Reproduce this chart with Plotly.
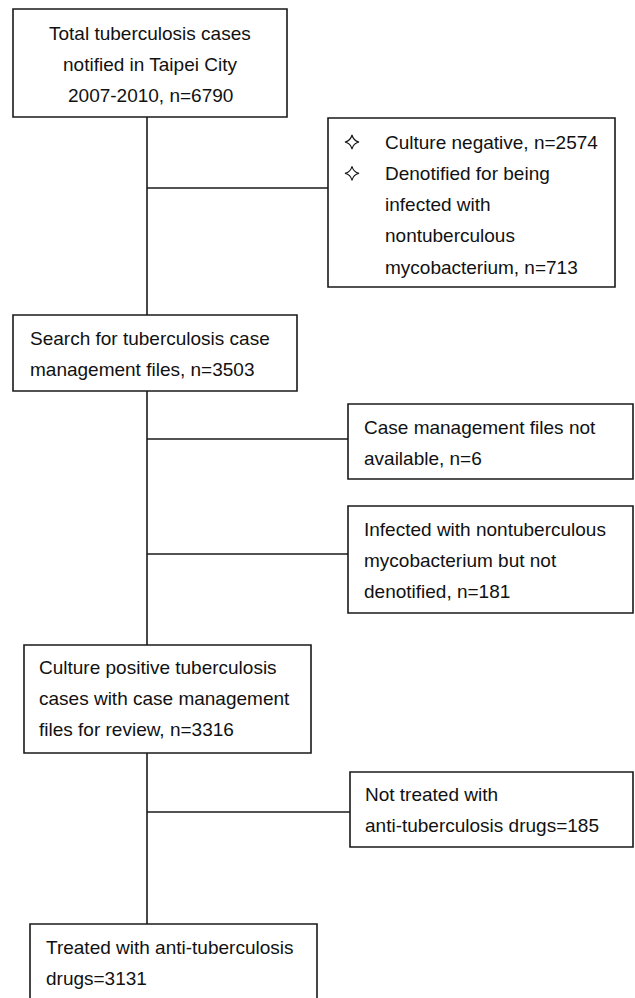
import plotly.graph_objects as go

# ---- flowchart content ----
TOTAL_LINES = ["Total tuberculosis cases", "notified in Taipei City", "2007-2010, n=6790"]
EXCL1_LINES = ["Culture negative, n=2574", "Denotified for being", "infected with",
               "nontuberculous", "mycobacterium, n=713"]
EXCL1_BULLETS = [0, 1]          # lines that start a bullet
SEARCH_LINES = ["Search for tuberculosis case", "management files, n=3503"]
EXCL2_LINES = ["Case management files not", "available, n=6"]
EXCL3_LINES = ["Infected with nontuberculous", "mycobacterium but not", "denotified, n=181"]
REVIEW_LINES = ["Culture positive tuberculosis", "cases with case management", "files for review, n=3316"]
EXCL4_LINES = ["Not treated with", "anti-tuberculosis drugs=185"]
TREATED_LINES = ["Treated with anti-tuberculosis", "drugs=3131"]

W, H = 635, 998
LINE = "#1a1a1a"
TEXT = "#111111"
FONT = "Liberation Sans, Arial, sans-serif"
FS = 19
SPACING = 31.3
SPINE_X = 147

fig = go.Figure()
shapes = []
annotations = []


def box(x0, y0, x1, y1):
    shapes.append(dict(type="rect", x0=x0, y0=y0, x1=x1, y1=y1, xref="x", yref="y",
                       line=dict(color=LINE, width=1.6), fillcolor="white", layer="below"))


def seg(x0, y0, x1, y1):
    shapes.append(dict(type="line", x0=x0, y0=y0, x1=x1, y1=y1, xref="x", yref="y",
                       line=dict(color=LINE, width=1.6), layer="below"))


def text_lines(lines, x, y0, align="left"):
    for i, t in enumerate(lines):
        annotations.append(dict(
            x=x, y=y0 + i * SPACING, xref="x", yref="y", text=t, showarrow=False,
            xanchor="center" if align == "center" else "left", yanchor="middle",
            font=dict(family=FONT, size=FS, color=TEXT),
        ))


# connectors (spine + side branches)
seg(SPINE_X, 117, SPINE_X, 315)
seg(SPINE_X, 391, SPINE_X, 645)
seg(SPINE_X, 753, SPINE_X, 924)
seg(SPINE_X, 188, 328, 188)
seg(SPINE_X, 439, 348, 439)
seg(SPINE_X, 554, 348, 554)
seg(SPINE_X, 812, 350, 812)

# boxes
box(13, 9, 287, 117)
text_lines(TOTAL_LINES, 150, 33, align="center")

box(328, 118, 615, 287)
text_lines(EXCL1_LINES, 383, 142)
bullet_y = [142 + i * SPACING for i in EXCL1_BULLETS]
fig.add_trace(go.Scatter(
    x=[352] * len(bullet_y), y=bullet_y, mode="markers", hoverinfo="skip",
    marker=dict(symbol="star-diamond-open", size=10, color=TEXT, line=dict(width=1.1, color=TEXT)),
))

box(13, 315, 297, 391)
text_lines(SEARCH_LINES, 28, 338)

box(348, 404, 633, 479)
text_lines(EXCL2_LINES, 362, 427)

box(348, 506, 633, 613)
text_lines(EXCL3_LINES, 362, 529)

box(24, 645, 311, 753)
text_lines(REVIEW_LINES, 37, 667)

box(350, 772, 633, 847)
text_lines(EXCL4_LINES, 363, 794)

box(30, 924, 317, 1012)
text_lines(TREATED_LINES, 44, 947)

fig.update_layout(
    width=W, height=H,
    margin=dict(l=0, r=0, t=0, b=0),
    paper_bgcolor="white", plot_bgcolor="white",
    showlegend=False,
    shapes=shapes, annotations=annotations,
    xaxis=dict(range=[0, W], visible=False, fixedrange=True),
    yaxis=dict(range=[H, 0], visible=False, fixedrange=True),
)

fig.write_html("out.html", config={"displayModeBar": False},
               post_script="document.body.style.margin='0';")
